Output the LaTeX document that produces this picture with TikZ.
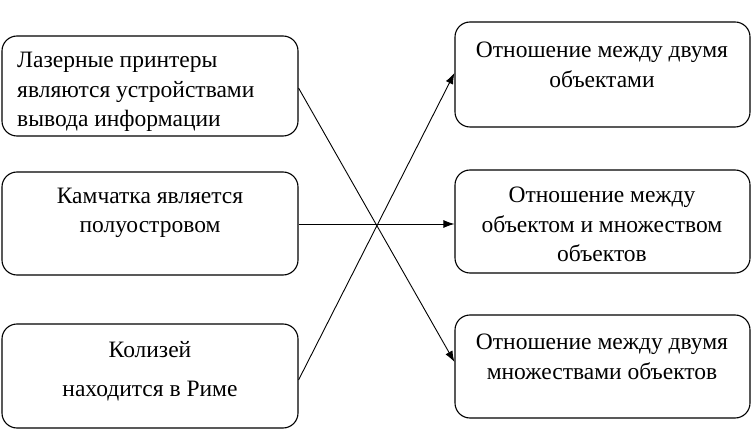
\documentclass[tikz,border=0pt]{standalone}
\usepackage{fontspec}
\setmainfont{Liberation Serif}
\newfontfamily\tms{Liberation Serif}
\usetikzlibrary{arrows.meta}
\begin{document}
\begin{tikzpicture}[x=1pt,y=-1pt,
  box/.style={draw,line width=1.1pt,rounded corners=15pt,inner sep=0pt},
  txt/.style={font=\tms\fontsize{23.5}{29.5}\selectfont,inner sep=0pt,align=center},
  conn/.style={line width=0.9pt,-{Latex[length=11pt,width=8pt]}}]
\useasboundingbox (0,0) rectangle (752,430);
% left boxes
\node[box,minimum width=296pt,minimum height=100pt] (L1) at (150,86) {};
\node[box,minimum width=296pt,minimum height=103pt] (L2) at (150,223.5) {};
\node[box,minimum width=296pt,minimum height=104pt] (L3) at (150,376) {};
% right boxes
\node[box,minimum width=295pt,minimum height=105pt] (R1) at (602.5,74.5) {};
\node[box,minimum width=295pt,minimum height=103pt] (R2) at (602.5,221.5) {};
\node[box,minimum width=295pt,minimum height=103pt] (R3) at (602.5,366.5) {};
% texts
\node[txt,align=left,anchor=west] (t1) at (17,92) {Лазерные принтеры\\являются устройствами\\вывода информации};
\node[txt] (t2) at (150,213) {Камчатка является\\полуостровом};
\node[txt,font=\tms\fontsize{23.5}{39}\selectfont] (t3) at (150,371) {Колизей\\находится в Риме};
\node[txt] (t4) at (602,65) {Отношение между двумя\\объектами};
\node[txt] (t5) at (602,224.5) {Отношение между\\объектом и множеством\\объектов};
\node[txt] (t6) at (602,357) {Отношение между двумя\\множествами объектов};
% connectors
\draw[conn] (L1.east |- 0,88) -- (R3.west |- 0,362);
\draw[conn] (L2.east |- 0,224) -- (R2.west |- 0,224);
\draw[conn] (L3.east |- 0,380) -- (R1.west |- 0,73);
\end{tikzpicture}
\end{document}
